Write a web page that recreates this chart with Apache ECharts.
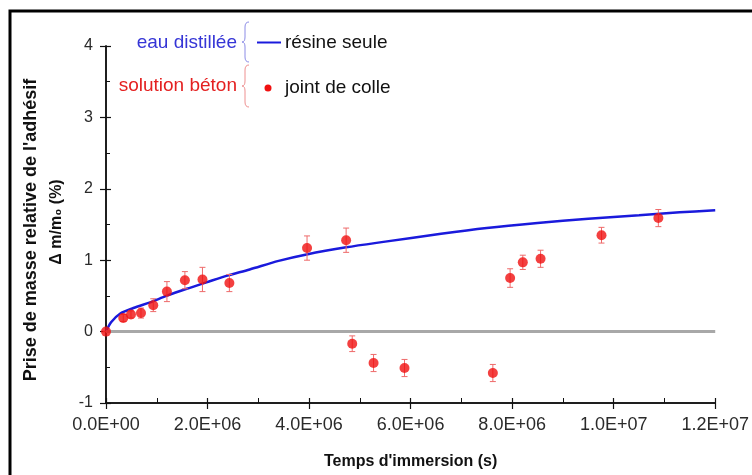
<!DOCTYPE html>
<html>
<head>
<meta charset="utf-8">
<script src="https://cdn.jsdelivr.net/npm/echarts@6/dist/echarts.min.js"></script>
<style>
  html, body { margin: 0; padding: 0; background: #ffffff; }
  #chart { width: 752px; height: 475px; }
</style>
</head>
<body>
<div id="chart"></div>
<script>
// Immersion time (s) and relative mass gain (%) of the adhesive joint
const jointTime = [0, 340000, 492000, 689000, 931000, 1200000, 1554000, 1900000, 2430000,
  3960000, 4730000, 4850000, 5270000, 5880000, 7620000, 7960000, 8210000, 8560000, 9760000, 10880000];
const jointGain = [0, 0.19, 0.24, 0.26, 0.37, 0.56, 0.72, 0.73, 0.68,
  1.17, 1.28, -0.17, -0.44, -0.51, -0.58, 0.75, 0.97, 1.02, 1.35, 1.59];
const jointErr = [0, 0.05, 0.05, 0.07, 0.09, 0.14, 0.12, 0.17, 0.12,
  0.17, 0.17, 0.11, 0.12, 0.12, 0.12, 0.13, 0.1, 0.12, 0.11, 0.12];

// Resin alone in distilled water (continuous curve)
const resinTime = [0, 100000, 275000, 540000, 870000, 1190000, 1590000, 1980000, 2370000, 2830000,
  3400000, 3950000, 4730000, 5500000, 6600000, 7500000, 8500000, 9500000, 10500000, 11300000, 12000000];
const resinGain = [0, 0.13, 0.25, 0.33, 0.41, 0.5, 0.6, 0.69, 0.78, 0.87,
  0.99, 1.08, 1.18, 1.26, 1.37, 1.45, 1.52, 1.58, 1.63, 1.67, 1.7];

// Axis tick labels
const xTickLabels = ['0.0E+00', '2.0E+06', '4.0E+06', '6.0E+06', '8.0E+06', '1.0E+07', '1.2E+07'];
const yTickLabels = ['-1', '0', '1', '2', '3', '4'];

const X_STEP = 2000000;
const FONT = '"Liberation Sans", Arial, sans-serif';
const AXIS_COLOR = '#111';

const chart = echarts.init(document.getElementById('chart'), null, { renderer: 'canvas' });

const pointData = jointTime.map((t, i) => [t, jointGain[i]]);
const errData = jointTime.map((t, i) => [t, jointGain[i] - jointErr[i], jointGain[i] + jointErr[i]]);
const resinData = resinTime.map((t, i) => [t, resinGain[i]]);

// curly brace "{" built from line and curve pieces, tip pointing left
function brace(x, top, bottom, color) {
  const mid = (top + bottom) / 2;
  const st = { stroke: color, lineWidth: 1, fill: null };
  const xs = x, xt = x - 3, xe = x + 4;
  return [
    { type: 'bezierCurve', shape: { x1: xe, y1: top, cpx1: xs, cpy1: top, x2: xs, y2: top + 5 }, style: st },
    { type: 'line', shape: { x1: xs, y1: top + 5, x2: xs, y2: mid - 5 }, style: st },
    { type: 'bezierCurve', shape: { x1: xs, y1: mid - 5, cpx1: xs, cpy1: mid, x2: xt, y2: mid }, style: st },
    { type: 'bezierCurve', shape: { x1: xt, y1: mid, cpx1: xs, cpy1: mid, x2: xs, y2: mid + 5 }, style: st },
    { type: 'line', shape: { x1: xs, y1: mid + 5, x2: xs, y2: bottom - 5 }, style: st },
    { type: 'bezierCurve', shape: { x1: xs, y1: bottom - 5, cpx1: xs, cpy1: bottom, x2: xe, y2: bottom }, style: st }
  ];
}

const baseX = {
  type: 'value', min: 0, max: 12000000, interval: X_STEP,
  position: 'bottom',
  axisLine: { onZero: false, lineStyle: { color: AXIS_COLOR, width: 1.5 } },
  splitLine: { show: false }
};
const baseY = {
  type: 'value', min: -1, max: 4, interval: 1,
  position: 'left',
  axisLine: { onZero: false, lineStyle: { color: AXIS_COLOR, width: 1.5 } },
  splitLine: { show: false }
};

const option = {
  animation: false,
  backgroundColor: '#ffffff',
  grid: { left: 106, right: 36, top: 46, bottom: 72 },
  xAxis: [
    Object.assign({}, baseX, {
      axisTick: { show: true, inside: false, length: 6, lineStyle: { color: AXIS_COLOR, width: 1.2 } },
      axisLabel: {
        margin: 13, fontSize: 18, color: '#2a2a2a', fontFamily: FONT,
        formatter: v => xTickLabels[Math.round(v / X_STEP)]
      },
      name: "Temps d'immersion (s)", nameLocation: 'middle', nameGap: 51,
      nameTextStyle: { fontSize: 16, fontWeight: 'bold', color: '#111', fontFamily: FONT }
    }),
    Object.assign({}, baseX, {
      axisTick: { show: true, inside: true, length: 5, lineStyle: { color: AXIS_COLOR, width: 1.2 } },
      minorTick: { show: true, splitNumber: 2, length: 5, lineStyle: { color: AXIS_COLOR, width: 1 } },
      axisLabel: { show: false }
    })
  ],
  yAxis: [
    Object.assign({}, baseY, {
      axisTick: { show: true, inside: false, length: 6, lineStyle: { color: AXIS_COLOR, width: 1.2 } },
      axisLabel: {
        margin: 13, fontSize: 16, color: '#2a2a2a', fontFamily: FONT,
        formatter: v => yTickLabels[Math.round(v + 1)]
      }
    }),
    Object.assign({}, baseY, {
      axisTick: { show: true, inside: true, length: 5, lineStyle: { color: AXIS_COLOR, width: 1.2 } },
      minorTick: { show: true, splitNumber: 2, length: 4, lineStyle: { color: AXIS_COLOR, width: 1 } },
      axisLabel: { show: false }
    })
  ],
  series: [
    {
      // zero reference line
      type: 'line', xAxisIndex: 0, yAxisIndex: 0,
      data: [], silent: true,
      markLine: {
        silent: true, symbol: 'none', label: { show: false },
        lineStyle: { color: '#a8a8a8', width: 3, type: 'solid' },
        data: [{ yAxis: 0 }]
      },
      z: 1
    },
    {
      name: 'résine seule', type: 'line', xAxisIndex: 0, yAxisIndex: 0,
      data: resinData, smooth: 0.3, showSymbol: false, symbol: 'none',
      lineStyle: { color: '#1a1adc', width: 2.5 },
      z: 3
    },
    {
      // error bars of the adhesive joint measurements
      type: 'custom', xAxisIndex: 0, yAxisIndex: 0,
      data: errData,
      renderItem: (params, api) => {
        const x = api.value(0);
        const lo = api.coord([x, api.value(1)]);
        const hi = api.coord([x, api.value(2)]);
        const cap = 3;
        const st = { stroke: '#ee6a6a', lineWidth: 1 };
        return {
          type: 'group',
          children: [
            { type: 'line', shape: { x1: lo[0], y1: lo[1], x2: hi[0], y2: hi[1] }, style: st },
            { type: 'line', shape: { x1: lo[0] - cap, y1: lo[1], x2: lo[0] + cap, y2: lo[1] }, style: st },
            { type: 'line', shape: { x1: hi[0] - cap, y1: hi[1], x2: hi[0] + cap, y2: hi[1] }, style: st }
          ]
        };
      },
      z: 4
    },
    {
      name: 'joint de colle', type: 'scatter', xAxisIndex: 0, yAxisIndex: 0,
      data: pointData, symbol: 'circle', symbolSize: 10,
      itemStyle: { color: '#f01010' },
      z: 5
    }
  ],
  graphic: [
    // outer frame
    { type: 'rect', shape: { x: 10, y: 11, width: 800, height: 520 },
      style: { fill: null, stroke: '#000', lineWidth: 3 }, silent: true },
    // y axis title, two lines
    { type: 'text', x: 31, y: 230, rotation: Math.PI / 2,
      style: { text: "Prise de masse relative de l'adhésif", fontSize: 18, fontWeight: 'bold',
        fontFamily: FONT, fill: '#111', align: 'center', verticalAlign: 'middle' } },
    { type: 'text', x: 57, y: 222, rotation: Math.PI / 2,
      style: { text: 'Δ m/m₀ (%)', fontSize: 16, fontWeight: 'bold',
        fontFamily: FONT, fill: '#111', align: 'center', verticalAlign: 'middle' } },
    // key
    { type: 'text', x: 237, y: 43,
      style: { text: 'eau distillée', fontSize: 19, fontFamily: FONT, fill: '#3535d6',
        align: 'right', verticalAlign: 'middle' } },
    { type: 'text', x: 237, y: 86,
      style: { text: 'solution béton', fontSize: 19, fontFamily: FONT, fill: '#e42020',
        align: 'right', verticalAlign: 'middle' } },
    ...brace(245, 22, 62, '#8c8ce6'),
    ...brace(245, 65, 107, '#ee9090'),
    { type: 'line', shape: { x1: 257, y1: 42.5, x2: 281, y2: 42.5 },
      style: { stroke: '#1a1adc', lineWidth: 2 } },
    { type: 'text', x: 285, y: 43,
      style: { text: 'résine seule', fontSize: 19, fontFamily: FONT, fill: '#111',
        align: 'left', verticalAlign: 'middle' } },
    { type: 'circle', shape: { cx: 268, cy: 88, r: 3.5 }, style: { fill: '#f01010' } },
    { type: 'text', x: 285, y: 88,
      style: { text: 'joint de colle', fontSize: 19, fontFamily: FONT, fill: '#111',
        align: 'left', verticalAlign: 'middle' } }
  ]
};

chart.setOption(option);
</script>
</body>
</html>
